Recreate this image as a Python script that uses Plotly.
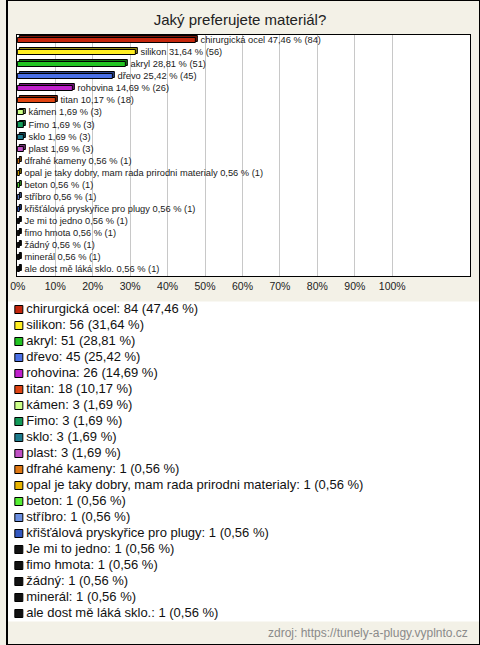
import plotly.graph_objects as go

categories = ["chirurgická ocel", "silikon", "akryl", "dřevo", "rohovina", "titan",
              "kámen", "Fimo", "sklo", "plast", "dfrahé kameny",
              "opal je taky dobry, mam rada prirodni materialy", "beton", "stříbro",
              "křišťálová pryskyřice pro plugy", "Je mi to jedno", "fimo hmota",
              "žádný", "minerál", "ale dost mě láká sklo."]
counts = [84, 56, 51, 45, 26, 18, 3, 3, 3, 3, 1, 1, 1, 1, 1, 1, 1, 1, 1, 1]
percents = [47.46, 31.64, 28.81, 25.42, 14.69, 10.17, 1.69, 1.69, 1.69, 1.69,
            0.56, 0.56, 0.56, 0.56, 0.56, 0.56, 0.56, 0.56, 0.56, 0.56]
colors = ["#c4260c", "#ffee22", "#22c422", "#4a70e6", "#c020cc", "#e04412",
          "#ccff88", "#129a58", "#1c7a8c", "#c050c4", "#e07812",
          "#e8b400", "#55ee33", "#6a8ee0", "#3358c0",
          "#111111", "#111111", "#111111", "#111111", "#111111"]
x_ticks = [0, 10, 20, 30, 40, 50, 60, 70, 80, 90, 100]
source_text = "zdroj: https://tunely-a-plugy.vyplnto.cz"
title_text = "Jaký preferujete materiál?"

W, H = 480, 645
FONT = "Liberation Sans, Arial, sans-serif"


def fmt(v):
    return f"{v:.2f}".replace(".", ",")


def darker(hexc, f=0.6):
    h = hexc.lstrip("#")
    r, g, b = (int(h[i:i + 2], 16) for i in (0, 2, 4))
    return "#%02x%02x%02x" % (int(r * f), int(g * f), int(b * f))


idx = list(range(len(categories)))
bar_text = ["\u00a0\u00a0" + f"{c} {fmt(p)} % ({n})" for c, p, n in zip(categories, percents, counts)]
legend_text = [f"{c}: {n} ({fmt(p)} %)" for c, p, n in zip(categories, percents, counts)]

fig = go.Figure()

# back face (depth effect)
fig.add_trace(go.Bar(
    y=idx, x=percents, base=0.5, orientation="h", width=0.45, offset=-0.4,
    marker=dict(color=[darker(c) for c in colors], line=dict(color="#000000", width=1)),
    hoverinfo="skip", showlegend=False,
))
# front face with labels
fig.add_trace(go.Bar(
    y=idx, x=percents, orientation="h", width=0.42, offset=-0.24,
    marker=dict(color=colors, line=dict(color="#000000", width=1)),
    text=bar_text, textposition="outside", cliponaxis=False, constraintext="none",
    textfont=dict(family=FONT, size=9.3, color="#1a1a1a"),
    hoverinfo="skip", showlegend=False,
))

# legend list below chart: squares
fig.add_trace(go.Scatter(
    x=[12] * len(idx), y=idx, xaxis="x2", yaxis="y2", mode="markers",
    marker=dict(symbol="square", size=8, color=colors, line=dict(color="#000000", width=1)),
    hoverinfo="skip", showlegend=False, cliponaxis=False,
))
# legend list below chart: labels
fig.add_trace(go.Scatter(
    x=[19.5] * len(idx), y=idx, xaxis="x2", yaxis="y2", mode="text",
    text=legend_text, textposition="middle right",
    textfont=dict(family=FONT, size=13, color="#111111"),
    hoverinfo="skip", showlegend=False, cliponaxis=False,
))

plot_top, plot_bottom, plot_left, plot_right = 35, 276, 10, 470
leg_top, leg_bottom = 301.5, 621.5

fig.update_layout(
    width=W, height=H,
    margin=dict(l=0, r=0, t=0, b=0),
    paper_bgcolor="#f3f1e7", plot_bgcolor="#ffffff",
    barmode="overlay", bargap=0,
    font=dict(family=FONT, color="#222222"),
    title=dict(text=title_text, x=0.5, xanchor="center", y=1 - 20 / H, yanchor="middle",
               font=dict(family=FONT, size=15, color="#222222")),
    xaxis=dict(domain=[plot_left / W, plot_right / W], range=[-0.25, 120.8],
               tickvals=x_ticks, ticktext=[f"{t}%" for t in x_ticks],
               showgrid=True, gridcolor="#c8c8c8", gridwidth=1, zeroline=False,
               showline=True, linecolor="#000000", linewidth=1, mirror=True,
               ticks="", tickfont=dict(family=FONT, size=10.5, color="#222222"),
               fixedrange=True),
    yaxis=dict(domain=[1 - plot_bottom / H, 1 - plot_top / H], range=[19.5, -0.5],
               showticklabels=False, showgrid=False, zeroline=False,
               showline=True, linecolor="#000000", linewidth=1, mirror=True,
               ticks="", fixedrange=True),
    xaxis2=dict(domain=[0, 1], range=[0, W], visible=False, anchor="y2", fixedrange=True),
    yaxis2=dict(domain=[1 - leg_bottom / H, 1 - leg_top / H], range=[19.5, -0.5],
                visible=False, anchor="x2", fixedrange=True),
    annotations=[dict(text=source_text, xref="paper", yref="paper",
                      x=470 / W, y=1 - 633 / H, xanchor="right", yanchor="middle",
                      showarrow=False, font=dict(family=FONT, size=12, color="#8a8a8a"))],
    shapes=[dict(type="rect", xref="paper", yref="paper", x0=0, y0=0, x1=1, y1=1,
                 line=dict(color="#000000", width=2), fillcolor="rgba(0,0,0,0)")],
)

fig.write_html("out.html", config={"displayModeBar": False},
               post_script="document.body.style.margin='0';document.body.style.overflow='hidden';")
